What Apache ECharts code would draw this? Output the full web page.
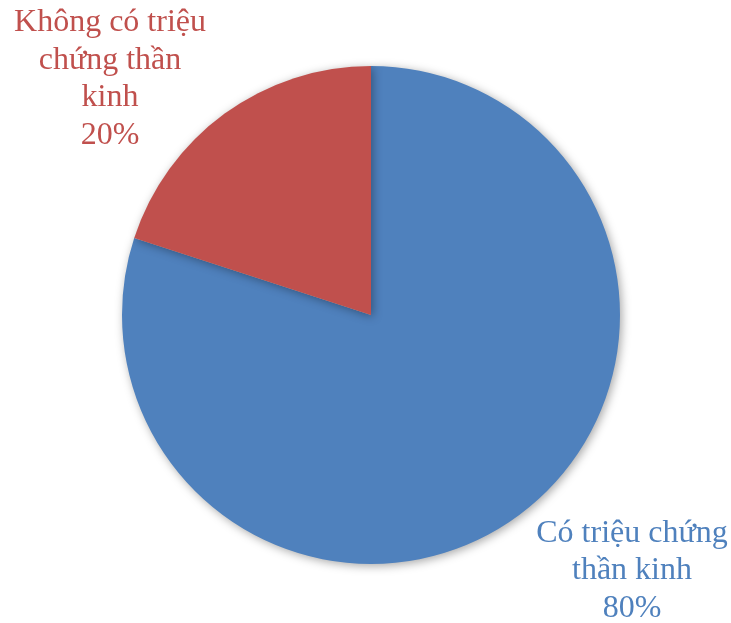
<!DOCTYPE html>
<html>
<head>
<meta charset="utf-8">
<script src="https://cdn.jsdelivr.net/npm/echarts@6/dist/echarts.min.js"></script>
<style>
  html, body { margin: 0; padding: 0; background: #fff; }
  #chart { width: 731px; height: 623px; }
</style>
</head>
<body>
<div id="chart"></div>
<script>
// Share of patients with / without neurological symptoms
const categories = ['Có triệu chứng\nthần kinh', 'Không có triệu\nchứng thần\nkinh'];
const values = [80, 20];
const colors = ['#4F81BD', '#C0504D'];

// Label anchor points (label block centres) for each slice
const labelAnchors = [
  { x: 632, y: 571 },
  { x: 110, y: 79 }
];

const chart = echarts.init(document.getElementById('chart'), null, { renderer: 'canvas' });

chart.setOption({
  animation: false,
  series: [{
    type: 'pie',
    center: [371, 315],
    radius: 249,
    startAngle: 90,
    clockwise: true,
    data: categories.map((name, i) => ({
      name: name,
      value: values[i],
      itemStyle: { color: colors[i] },
      label: { color: colors[i] }
    })),
    itemStyle: {
      shadowBlur: 10,
      shadowColor: 'rgba(0,0,0,0.35)',
      shadowOffsetX: 2,
      shadowOffsetY: 2
    },
    label: {
      show: true,
      position: 'outside',
      formatter: '{b}\n{d}%',
      fontFamily: '"Liberation Serif", "Times New Roman", serif',
      fontSize: 32,
      lineHeight: 37.5,
      align: 'center',
      overflow: 'none'
    },
    labelLine: { show: false },
    labelLayout: function (params) {
      const a = labelAnchors[params.dataIndex];
      return { x: a.x, y: a.y, align: 'center', verticalAlign: 'middle' };
    },
    emphasis: { disabled: true }
  }]
});
</script>
</body>
</html>
